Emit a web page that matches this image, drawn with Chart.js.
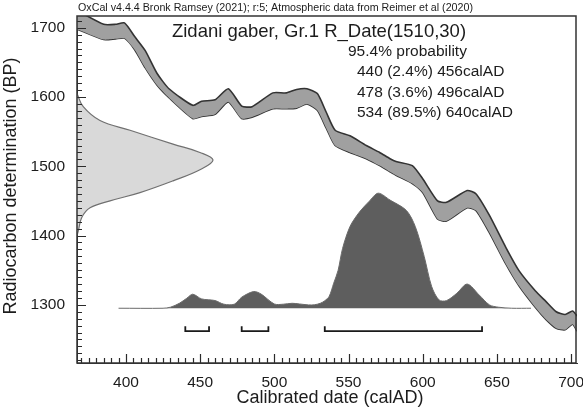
<!DOCTYPE html>
<html>
<head>
<meta charset="utf-8">
<script src="https://cdn.jsdelivr.net/npm/chart.js@4.4.0/dist/chart.umd.min.js"></script>
<style>
  html, body { margin: 0; padding: 0; background: #fff; }
  #wrap { width: 583px; height: 413px; }
</style>
</head>
<body>
<div id="wrap"><canvas id="chart"></canvas></div>
<script>
// calibration curve band (calAD vs BP)
const BAND_YEARS = [367, 385, 393, 399, 406, 413, 421, 429, 445, 451, 460, 469, 478, 485, 499, 508, 515, 522, 529, 535, 541, 551, 562, 571, 578, 582, 593, 600, 610, 616, 630, 636, 645, 656, 665, 676, 683, 690, 696, 701, 704]
const BAND_UPPER = [1725, 1705, 1705, 1707, 1687, 1667, 1634, 1612, 1588, 1594, 1596, 1612, 1587, 1586, 1606, 1606, 1611, 1612, 1605, 1578, 1552, 1544, 1530, 1520, 1511, 1507, 1501, 1482, 1450, 1448, 1465, 1460, 1429, 1383, 1349, 1320, 1305, 1290, 1286, 1291, 1284]
const BAND_LOWER = [1698, 1683, 1684, 1685, 1668, 1642, 1617, 1599, 1569, 1572, 1575, 1593, 1569, 1571, 1583, 1583, 1584, 1590, 1581, 1555, 1530, 1520, 1511, 1501, 1492, 1487, 1475, 1462, 1424, 1421, 1440, 1436, 1404, 1359, 1327, 1296, 1279, 1266, 1264, 1272, 1262]

// R_Date(1510,30) drawn along the BP axis
const PRIOR_BP = [1605, 1586, 1566, 1552, 1532, 1520, 1509, 1495, 1479, 1462, 1450, 1440, 1426, 1407, 1400]
const PRIOR_DENSITY = [0, 4.6, 16.9, 39, 70.6, 90.4, 100, 90.4, 70.6, 46.3, 24.3, 9.6, 3.5, 1, 0]

// calibrated distribution
const POST_YEARS = [395, 425, 430, 436, 441, 445, 451, 460, 466, 473, 478, 486, 491, 500, 506, 512, 517, 523, 527, 531, 534, 537, 540, 543, 546, 551, 557, 564, 570, 578, 589, 595, 601, 606, 611, 616, 623, 630, 638, 645, 651, 660, 673]
const POST_PROB = [0, 0, 0.9, 4.3, 8.7, 12.2, 8.1, 6.7, 3.5, 3.5, 9.6, 14.5, 12.4, 3.7, 3.5, 4.3, 3.7, 2.9, 3, 4.3, 6.5, 10.4, 21.7, 33, 52, 71, 83, 93, 100, 94, 85, 71, 45, 19, 7.2, 6.6, 13, 21, 11.6, 2.9, 0.9, 0, 0]

// 95.4% ranges
const RANGE_FROM = [440, 478, 534]
const RANGE_TO = [456, 496, 640]

const X_TICKS = [400, 450, 500, 550, 600, 650, 700]
const Y_TICKS = [1300, 1400, 1500, 1600, 1700]

const HEADER = 'OxCal v4.4.4 Bronk Ramsey (2021); r:5; Atmospheric data from Reimer et al (2020)'
const TITLE = 'Zidani gaber, Gr.1 R_Date(1510,30)'
const PROB_LABEL = '95.4% probability'
const RANGE_LABELS = ['440 (2.4%) 456calAD', '478 (3.6%) 496calAD', '534 (89.5%) 640calAD']
const X_TITLE = 'Calibrated date (calAD)'
const Y_TITLE = 'Radiocarbon determination (BP)'

const FONT = 'Liberation Sans, Arial, sans-serif'
const INK = '#1c1c1c'
const BRACKET_BP = 1262
const BRACKET_TICK = 7

const pts = (xs, ys) => xs.map((x, i) => ({ x, y: ys[i] }))

const bracketSets = RANGE_FROM.map((from, i) => ({
  data: [
    { x: from, y: BRACKET_BP + BRACKET_TICK },
    { x: from, y: BRACKET_BP },
    { x: RANGE_TO[i], y: BRACKET_BP },
    { x: RANGE_TO[i], y: BRACKET_BP + BRACKET_TICK },
  ],
  borderColor: '#1a1a1a',
  borderWidth: 1.8,
  pointRadius: 0,
  fill: false,
  tension: 0,
}))

// inward ticks, plot box and all the free text
const frame = {
  id: 'frame',
  afterDraw(chart) {
    const { ctx, chartArea: a } = chart
    const x = chart.scales.x
    const y = chart.scales.y
    const left = Math.round(a.left)
    const top = Math.round(a.top)
    const right = Math.round(a.right)
    const bottom = Math.round(a.bottom)
    ctx.save()
    ctx.strokeStyle = '#2a2a2a'
    ctx.lineWidth = 1.2
    ctx.beginPath()
    for (let v = 370; v <= 700; v += 5) {
      const px = Math.round(x.getPixelForValue(v)) + 0.5
      const len = v % 50 === 0 ? 9 : 5
      ctx.moveTo(px, bottom)
      ctx.lineTo(px, bottom - len)
    }
    for (let v = 1220; v <= 1710; v += 10) {
      const py = Math.round(y.getPixelForValue(v)) + 0.5
      const len = v % 100 === 0 ? 9 : 5
      ctx.moveTo(left, py)
      ctx.lineTo(left + len, py)
    }
    ctx.stroke()
    ctx.strokeStyle = '#333'
    ctx.lineWidth = 1.5
    ctx.beginPath()
    ctx.moveTo(left, top)
    ctx.lineTo(right - 1, top)
    ctx.lineTo(right - 1, bottom)
    ctx.lineTo(left, bottom)
    ctx.closePath()
    ctx.stroke()

    ctx.fillStyle = INK
    ctx.textBaseline = 'middle'
    ctx.textAlign = 'left'
    ctx.font = `10.7px ${FONT}`
    ctx.fillText(HEADER, left + 1, 8)
    ctx.textAlign = 'center'
    ctx.font = `18.5px ${FONT}`
    ctx.fillText(TITLE, 319, 32)
    ctx.textAlign = 'left'
    ctx.font = `15.5px ${FONT}`
    ctx.fillText(PROB_LABEL, 348, 52)
    RANGE_LABELS.forEach((t, i) => ctx.fillText(t, 357, 72 + i * 20.5))
    ctx.textAlign = 'center'
    ctx.font = `18px ${FONT}`
    ctx.fillText(X_TITLE, 330, 398)
    ctx.translate(11, 186)
    ctx.rotate(-Math.PI / 2)
    ctx.fillText(Y_TITLE, 0, 0)
    ctx.restore()
  },
}

new Chart(document.getElementById('chart'), {
  type: 'line',
  data: {
    datasets: [
      {
        data: pts(BAND_YEARS, BAND_UPPER),
        borderColor: '#333',
        borderWidth: 1.6,
        backgroundColor: '#a0a0a0',
        pointRadius: 0,
        fill: '+1',
        tension: 0.2,
      },
      {
        data: pts(BAND_YEARS, BAND_LOWER),
        borderColor: '#333',
        borderWidth: 1.6,
        pointRadius: 0,
        fill: false,
        tension: 0.2,
      },
      ...bracketSets,
      {
        data: pts(POST_YEARS, POST_PROB),
        yAxisID: 'yPost',
        borderColor: '#6a6a6a',
        borderWidth: 1,
        backgroundColor: '#5e5e5e',
        pointRadius: 0,
        fill: 'origin',
        tension: 0.3,
      },
      {
        data: PRIOR_BP.map((bp, i) => ({ x: PRIOR_DENSITY[i], y: bp })),
        indexAxis: 'y',
        xAxisID: 'xPrior',
        borderColor: '#707070',
        borderWidth: 1.2,
        backgroundColor: '#d9d9d9',
        pointRadius: 0,
        fill: 'origin',
        tension: 0.4,
      },
    ],
  },
  options: {
    responsive: true,
    maintainAspectRatio: false,
    animation: false,
    layout: { padding: { top: 16, right: 6, left: 0, bottom: 0 } },
    plugins: { legend: { display: false }, tooltip: { enabled: false } },
    scales: {
      x: {
        type: 'linear',
        min: 367,
        max: 704,
        afterBuildTicks: s => { s.ticks = X_TICKS.map(value => ({ value })) },
        afterFit: s => { s.height = 50; s.paddingLeft = 0; s.paddingRight = 0 },
        grid: { display: false },
        border: { color: '#333', width: 1 },
        ticks: { color: INK, font: { family: FONT, size: 15.5 }, padding: 2, maxRotation: 0, callback: v => String(v) },
      },
      y: {
        type: 'linear',
        min: 1216,
        max: 1717,
        afterBuildTicks: s => { s.ticks = Y_TICKS.map(value => ({ value })) },
        afterFit: s => { s.width = 77; s.paddingTop = 0; s.paddingBottom = 0 },
        grid: { display: false },
        border: { color: '#333', width: 1 },
        ticks: { color: INK, font: { family: FONT, size: 15.5 }, padding: 4, callback: v => String(v) },
      },
      xPrior: { type: 'linear', display: false, min: 0, max: 367.6 },
      yPost: { type: 'linear', display: false, min: -47.6, max: 254 },
    },
  },
  plugins: [frame],
})
</script>
</body>
</html>
